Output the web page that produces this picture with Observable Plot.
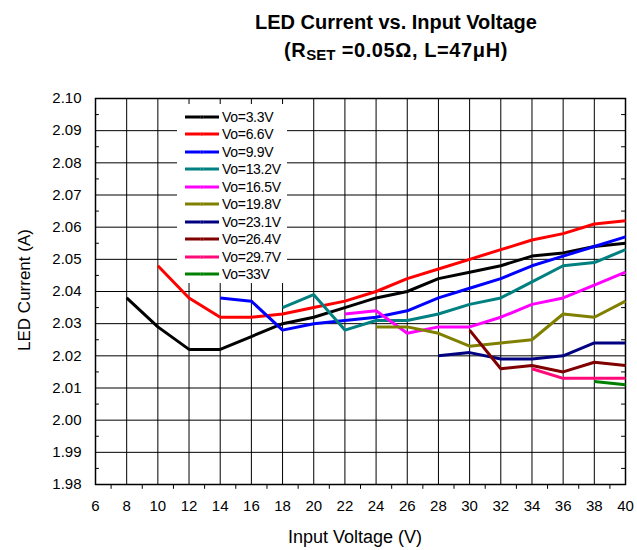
<!DOCTYPE html>
<html>
<head>
<meta charset="utf-8">
<script src="https://cdn.jsdelivr.net/npm/d3@7"></script>
<script src="https://cdn.jsdelivr.net/npm/@observablehq/plot@0.6"></script>
<style>
  body { margin: 0; background: #fff; font-family: "Liberation Sans", Arial, sans-serif; }
  #wrap { position: relative; width: 637px; height: 550px; overflow: hidden; }
  #title { position: absolute; left: 196px; width: 400px; top: 8px; text-align: center; font-weight: bold; font-size: 20px; line-height: 28px; color: #000; }
  #title .l2 { letter-spacing: 0.6px; }
  #title sub { font-size: 15px; vertical-align: -3px; line-height: 0; letter-spacing: 0; }
  #legend { position: absolute; left: 177px; top: 104px; width: 110px; height: 179px; background: #fff; }
  .item { position: absolute; left: 0; height: 17px; display: flex; align-items: center; font-size: 14px; color: #000; letter-spacing: -0.3px; }
  .item svg { margin-left: 8px; margin-right: 3px; }
  #ylab { position: absolute; left: 25px; top: 290px; transform: translate(-50%, -50%) rotate(-90deg); font-size: 17px; white-space: nowrap; }
  #xlab { position: absolute; left: 355px; top: 537px; transform: translate(-50%, -50%); font-size: 18px; white-space: nowrap; }
</style>
</head>
<body>
<div id="wrap">
  <div id="title">LED Current vs. Input Voltage<br><span class="l2">(R<sub>SET</sub> =0.05Ω, L=47μH)</span></div>
  <div id="ylab">LED Current (A)</div>
  <div id="xlab">Input Voltage (V)</div>
</div>
<script>
// Input voltage (x) values
const inputV = [8, 10, 12, 14, 16, 18, 20, 22, 24, 26, 28, 30, 32, 34, 36, 38, 40];

// Series names and colours
const seriesNames = ["Vo=3.3V", "Vo=6.6V", "Vo=9.9V", "Vo=13.2V", "Vo=16.5V", "Vo=19.8V", "Vo=23.1V", "Vo=26.4V", "Vo=29.7V", "Vo=33V"];
const seriesColors = ["#000000", "#ff0000", "#0000ff", "#008080", "#ff00ff", "#808000", "#000080", "#800000", "#ff0a78", "#008000"];

// LED current (A) per series, aligned with inputV (null = no measurement)
const vo3_3  = [2.038, 2.029, 2.022, 2.022, 2.026, 2.030, 2.032, 2.035, 2.038, 2.040, 2.044, 2.046, 2.048, 2.051, 2.052, 2.054, 2.055];
const vo6_6  = [null, 2.048, 2.038, 2.032, 2.032, 2.033, 2.035, 2.037, 2.040, 2.044, 2.047, 2.050, 2.053, 2.056, 2.058, 2.061, 2.062];
const vo9_9  = [null, null, null, 2.038, 2.037, 2.028, 2.030, 2.031, 2.032, 2.034, 2.038, 2.041, 2.044, 2.048, 2.051, 2.054, 2.057];
const vo13_2 = [null, null, null, null, null, 2.035, 2.039, 2.028, 2.031, 2.031, 2.033, 2.036, 2.038, 2.043, 2.048, 2.049, 2.053];
const vo16_5 = [null, null, null, null, null, null, null, 2.033, 2.034, 2.027, 2.029, 2.029, 2.032, 2.036, 2.038, 2.042, 2.046];
const vo19_8 = [null, null, null, null, null, null, null, null, 2.029, 2.029, 2.027, 2.023, 2.024, 2.025, 2.033, 2.032, 2.037];
const vo23_1 = [null, null, null, null, null, null, null, null, null, null, 2.020, 2.021, 2.019, 2.019, 2.020, 2.024, 2.024];
const vo26_4 = [null, null, null, null, null, null, null, null, null, null, null, 2.028, 2.016, 2.017, 2.015, 2.018, 2.017];
const vo29_7 = [null, null, null, null, null, null, null, null, null, null, null, null, null, 2.016, 2.013, 2.013, 2.013];
const vo33   = [null, null, null, null, null, null, null, null, null, null, null, null, null, null, null, 2.012, 2.011];

// Axis ticks
const xTicks = [6, 8, 10, 12, 14, 16, 18, 20, 22, 24, 26, 28, 30, 32, 34, 36, 38, 40];
const yTicks = [1.98, 1.99, 2.00, 2.01, 2.02, 2.03, 2.04, 2.05, 2.06, 2.07, 2.08, 2.09, 2.10];
const yMinor = [1.985, 1.995, 2.005, 2.015, 2.025, 2.035, 2.045, 2.055, 2.065, 2.075, 2.085, 2.095];
const xMinor = [7, 9, 11, 13, 15, 17, 19, 21, 23, 25, 27, 29, 31, 33, 35, 37, 39];

const allSeries = [vo3_3, vo6_6, vo9_9, vo13_2, vo16_5, vo19_8, vo23_1, vo26_4, vo29_7, vo33];
const rows = [];
allSeries.forEach((vals, si) => {
  vals.forEach((v, i) => {
    if (v != null) rows.push({x: inputV[i], y: v, s: seriesNames[si]});
  });
});

const chart = Plot.plot({
  width: 637,
  height: 550,
  marginLeft: 95,
  marginRight: 12,
  marginTop: 98,
  marginBottom: 66,
  style: {fontFamily: "'Liberation Sans', Arial, sans-serif", fontSize: "15px", color: "#000", background: "transparent"},
  x: {domain: [6, 40]},
  y: {domain: [1.98, 2.10]},
  color: {domain: seriesNames, range: seriesColors},
  marks: [
    Plot.ruleY(yTicks, {stroke: "#000", strokeWidth: 1}),
    Plot.ruleX(xTicks, {stroke: "#000", strokeWidth: 1}),
    Plot.ruleY(yMinor, {x1: () => 6, x2: () => 6.25, stroke: "#000"}),
    Plot.ruleY(yMinor, {x1: () => 39.75, x2: () => 40, stroke: "#000"}),
    Plot.ruleX(xMinor, {y1: () => 1.98, y2: () => 1.9785, stroke: "#000", clip: false}),
    Plot.frame({stroke: "#000", strokeWidth: 1.5}),
    Plot.axisX(xTicks, {tickSize: 0, tickPadding: 16, tickFormat: d => String(d), label: null, fontSize: 15}),
    Plot.axisY(yTicks, {tickSize: 0, tickPadding: 14, tickFormat: d => d.toFixed(2), label: null, fontSize: 15}),
    Plot.line(rows, {x: "x", y: "y", z: "s", stroke: "s", strokeWidth: 3, strokeLinejoin: "miter", strokeLinecap: "butt"})
  ]
});
chart.style.position = "absolute";
chart.style.left = "0px";
chart.style.top = "0px";
const wrap = document.getElementById("wrap");
wrap.insertBefore(chart, wrap.firstChild);

// Legend overlay inside the plot
const legend = document.createElement("div");
legend.id = "legend";
seriesNames.forEach((name, i) => {
  const item = document.createElement("div");
  item.className = "item";
  item.style.top = (4 + i * 17.5) + "px";
  item.innerHTML = `<svg width="34" height="6"><line x1="0" y1="3" x2="34" y2="3" stroke="${seriesColors[i]}" stroke-width="3"/><circle cx="17" cy="3" r="1.6" fill="${seriesColors[i]}" stroke="#fff" stroke-opacity="0.3" stroke-width="0.5"/></svg><span>${name}</span>`;
  legend.appendChild(item);
});
wrap.appendChild(legend);
</script>
</body>
</html>
